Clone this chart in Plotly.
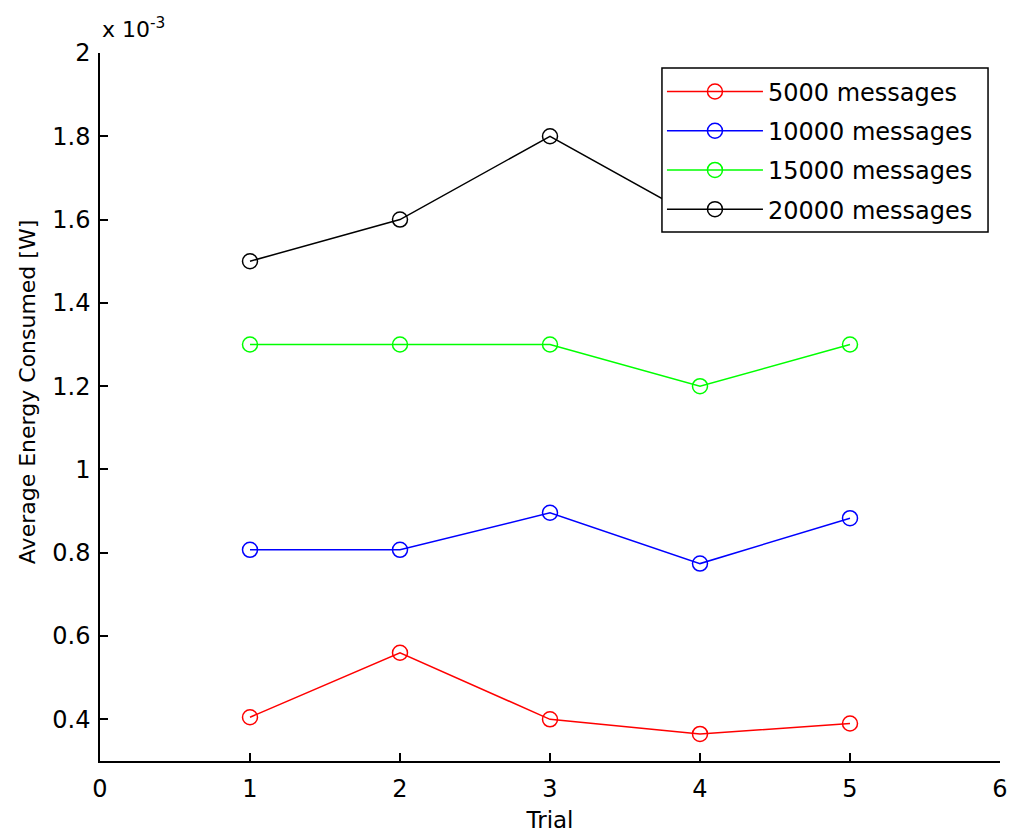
import plotly.graph_objects as go

trials = [1, 2, 3, 4, 5]
series_names = ["5000 messages", "10000 messages", "15000 messages", "20000 messages"]
energy_5000 = [0.405e-3, 0.560e-3, 0.400e-3, 0.365e-3, 0.390e-3]
energy_10000 = [0.807e-3, 0.807e-3, 0.896e-3, 0.774e-3, 0.883e-3]
energy_15000 = [1.30e-3, 1.30e-3, 1.30e-3, 1.20e-3, 1.30e-3]
energy_20000 = [1.50e-3, 1.60e-3, 1.80e-3, 1.60e-3, 1.70e-3]
series_colors = ["#ff0000", "#0000ff", "#00ff00", "#000000"]

x_ticks = [0, 1, 2, 3, 4, 5, 6]
y_tick_vals = [0.4e-3, 0.6e-3, 0.8e-3, 1.0e-3, 1.2e-3, 1.4e-3, 1.6e-3, 1.8e-3, 2.0e-3]
y_tick_text = ["0.4", "0.6", "0.8", "1", "1.2", "1.4", "1.6", "1.8", "2"]

FONT = "DejaVu Sans, Arial, Helvetica, sans-serif"

fig = go.Figure()
for i, (name, vals, col) in enumerate(zip(series_names,
                                          [energy_5000, energy_10000, energy_15000, energy_20000],
                                          series_colors)):
    fig.add_trace(go.Scatter(
        x=trials, y=vals, name=name, mode="lines+markers",
        line=dict(color=col, width=1.5),
        marker=dict(symbol="circle-open", size=15, color=col, line=dict(width=1.5, color=col)),
        legendgroup=f"g{i}",
    ))

# legend frame (box behind the legend entries, hides the lines it covers)
LEG_X0, LEG_X1, LEG_Y0, LEG_Y1 = 0.6244, 0.9867, 0.7472, 0.9788
fig.add_shape(type="rect", xref="paper", yref="paper",
              x0=LEG_X0, x1=LEG_X1, y0=LEG_Y0, y1=LEG_Y1,
              line=dict(color="black", width=1.5), fillcolor="white", layer="above")

fig.update_layout(
    width=1011, height=837,
    margin=dict(l=100, r=11, t=53, b=76),
    paper_bgcolor="white", plot_bgcolor="white",
    font=dict(family=FONT, size=24, color="black"),
    showlegend=True,
    legend=dict(
        x=LEG_X0, y=LEG_Y1 - 0.002, xanchor="left", yanchor="top",
        borderwidth=0, bgcolor="rgba(0,0,0,0)",
        font=dict(family=FONT, size=24, color="black"),
        tracegroupgap=5, itemwidth=96,
    ),
    xaxis=dict(
        range=[0, 6], tickmode="array", tickvals=x_ticks,
        ticks="inside", ticklen=8, tickwidth=1.5, tickcolor="black",
        ticklabelstandoff=5,
        showline=True, linecolor="black", linewidth=1.5, mirror=False,
        showgrid=False, zeroline=False,
        title=dict(text="Trial", standoff=10, font=dict(size=23)),
        automargin=False,
    ),
    yaxis=dict(
        range=[0.3e-3, 2.0e-3], tickmode="array", tickvals=y_tick_vals, ticktext=y_tick_text,
        ticks="inside", ticklen=8, tickwidth=1.5, tickcolor="black",
        ticklabelstandoff=3,
        showline=True, linecolor="black", linewidth=1.5, mirror=False,
        showgrid=False, zeroline=False,
        automargin=False,
    ),
    annotations=[
        dict(
            xref="paper", yref="paper", x=0.0, y=1.0, xanchor="left", yanchor="bottom",
            yshift=9, text="x 10<sup>-3</sup>", showarrow=False,
            font=dict(family=FONT, size=22, color="black"),
        ),
        dict(
            xref="paper", yref="paper", x=-0.0811, y=0.521, xanchor="center", yanchor="middle",
            text="Average Energy Consumed [W]", textangle=-90, showarrow=False,
            font=dict(family=FONT, size=22, color="black"),
        ),
    ],
)

fig.write_html("out.html", config={"displayModeBar": False},
               post_script="document.body.style.margin='0px';document.body.style.overflow='hidden';")
